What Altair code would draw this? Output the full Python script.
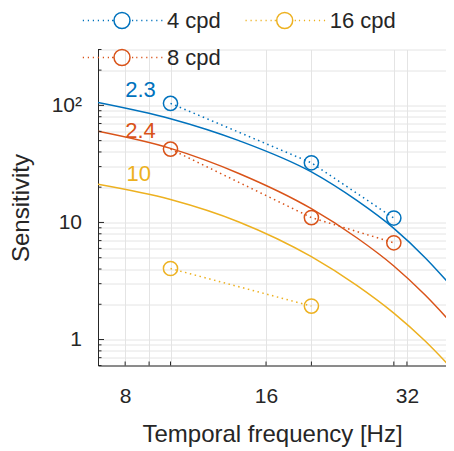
import altair as alt
import pandas as pd

FONT = "Liberation Sans"
INK = "#262626"

series_names = ["4 cpd", "8 cpd", "16 cpd"]
series_colors = ["#0072BD", "#D95319", "#EDB120"]

# measured points
meas_freq = [10, 20, 30]
meas_4 = [104, 32.3, 10.9]
meas_8 = [42.3, 11.0, 6.7]
meas_16 = [4.04, 1.93]

# fitted curves
fit_freq = [7, 10, 14, 20, 25, 30, 35, 40]
fit_4 = [106, 77, 50, 27, 15.4, 8.9, 5.0, 2.8]
fit_8 = [60, 42.9, 26.2, 13.1, 7.4, 4.25, 2.4, 1.36]
fit_16 = [21.2, 15.7, 10.1, 5.1, 2.9, 1.68, 0.97, 0.56]

# annotations
note_text = ["2.3", "2.4", "10"]
note_series = ["4 cpd", "8 cpd", "16 cpd"]
note_freq = [8.0, 8.0, 8.05]
note_sens = [135, 60, 26]

# axis ticks / grid
x_major = [8, 16, 32]
x_grid = [8, 9, 10, 16, 20, 30, 32]
x_minor_ticks = [8, 9, 10, 16, 20, 30, 32]
y_major = [1, 10, 100]
y_grid = [0.6, 0.7, 0.8, 0.9, 1, 2, 3, 4, 5, 6, 7, 8, 9, 10,
          20, 30, 40, 50, 60, 70, 80, 90, 100, 200, 300]

meas_rows = []
for name, vals in zip(series_names, [meas_4, meas_8, meas_16]):
    for f, s in zip(meas_freq, vals):
        meas_rows.append({"f": f, "s": s, "series": name})
meas_df = pd.DataFrame(meas_rows)

fit_rows = []
for name, vals in zip(series_names, [fit_4, fit_8, fit_16]):
    for f, s in zip(fit_freq, vals):
        fit_rows.append({"f": f, "s": s, "series": name})
fit_df = pd.DataFrame(fit_rows)

note_df = pd.DataFrame({"f": note_freq, "s": note_sens, "t": note_text, "series": note_series})
xt_df = pd.DataFrame({"f": x_minor_ticks})
yt_df = pd.DataFrame({"s": [v for v in y_grid if v not in y_major]})
ytm_df = pd.DataFrame({"s": y_major})

W, H = 348, 316

xs = alt.Scale(type="log", domain=[7, 38.78], nice=False)
ys = alt.Scale(type="log", domain=[0.6, 300], nice=False)
cs = alt.Scale(domain=series_names, range=series_colors)

x_lab = " || ".join(f"datum.value == {v}" for v in x_major)
X = alt.X("f:Q", scale=xs, title="Temporal frequency [Hz]",
          axis=alt.Axis(values=x_grid, labelExpr=f"({x_lab}) ? format(datum.value, 'd') : ''",
                        labelOverlap=False, labelBound=False))
Y = alt.Y("s:Q", scale=ys, title="Sensitivity",
          axis=alt.Axis(values=y_grid,
                        labelExpr="datum.value == 100 ? '10²' : datum.value == 10 ? '10' : datum.value == 1 ? '1' : ''",
                        labelOverlap=False, labelBound=False))

# legend symbol: dotted line with open circle (circle traced both ways so it never fills)
dot_pos = [-4.9, -4.275, -3.65, -3.025, -2.4, -1.775, -1.25,
           1.25, 1.775, 2.4, 3.025, 3.65, 4.275, 4.9]
dots = "".join(f"M{v:.3f},0h0.15" for v in dot_pos)
sym = (dots + "M1,0A1,1 0 1,1 -1,0A1,1 0 1,1 1,0Z"
       + "M1,0A1,1 0 1,0 -1,0A1,1 0 1,0 1,0Z")

legend = alt.Legend(title=None, orient="none", legendX=13, legendY=-40, columns=2,
                    symbolType=sym, symbolSize=256, symbolStrokeWidth=1.5,
                    symbolFillColor="transparent",
                    labelFont=FONT, labelFontSize=22, labelColor=INK,
                    labelOffset=34, columnPadding=20.7, rowPadding=15, padding=0)

C_leg = alt.Color("series:N", scale=cs, legend=legend)
C = alt.Color("series:N", scale=cs, legend=None)

pts = alt.Chart(meas_df).mark_point(filled=False, size=201, strokeWidth=1.5, opacity=1).encode(
    x=X, y=Y, color=C_leg)
fit = alt.Chart(fit_df).mark_line(strokeWidth=1.5, interpolate="monotone", clip=True).encode(
    x=X, y=Y, color=C, detail="series:N")
dotted = alt.Chart(meas_df).mark_line(strokeWidth=1.5, strokeDash=[1.5, 3.5], clip=True).encode(
    x=X, y=Y, color=C, detail="series:N")
notes = alt.Chart(note_df).mark_text(align="left", baseline="middle", font=FONT, fontSize=22).encode(
    x=X, y=Y, text="t:N", color=C)

xt = alt.Chart(xt_df).mark_rule(color=INK, strokeWidth=1).encode(
    x=alt.X("f:Q", scale=xs), y=alt.value(H), y2=alt.value(H - 4))
yt = alt.Chart(yt_df).mark_rule(color=INK, strokeWidth=1).encode(
    y=alt.Y("s:Q", scale=ys), x=alt.value(0), x2=alt.value(3.5))
ytm = alt.Chart(ytm_df).mark_rule(color=INK, strokeWidth=1).encode(
    y=alt.Y("s:Q", scale=ys), x=alt.value(0), x2=alt.value(6))

chart = alt.layer(pts, fit, dotted, notes, xt, yt, ytm).properties(
    width=W, height=H,
    autosize=alt.AutoSizeParams(type="none"),
    padding={"left": 90, "top": 41.5, "right": 0, "bottom": 86},
).configure_view(stroke=None).configure_axis(
    grid=True, gridColor="#e4e4e4", gridWidth=1, gridOpacity=1,
    domainColor=INK, domainWidth=1, ticks=False,
    labelFont=FONT, labelFontSize=21, labelColor=INK,
    titleFont=FONT, titleFontSize=24, titleColor=INK, titleFontWeight="normal",
).configure_axisX(labelPadding=20, titlePadding=16).configure_axisY(labelPadding=16.5, titlePadding=18)

chart.save("out.html", embed_options={"renderer": "svg", "actions": False})
